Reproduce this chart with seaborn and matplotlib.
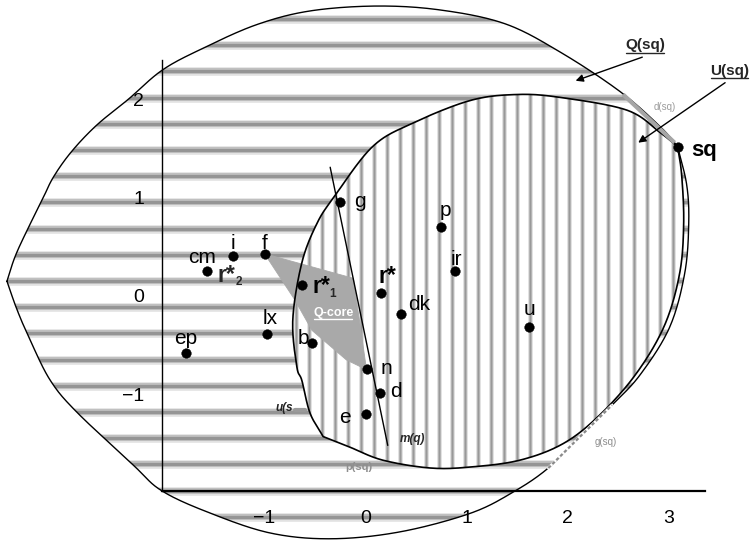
import numpy as np
import pandas as pd
import matplotlib
matplotlib.use("Agg")
import matplotlib.pyplot as plt
from matplotlib.patches import Polygon
from matplotlib.lines import Line2D
import seaborn as sns

# ---------------- data ----------------
# ideal points and the status quo
point_names = ["sq", "g", "p", "f", "i", "cm", "ir", "r1", "r", "dk",
               "u", "lx", "b", "ep", "n", "d", "e"]
point_x = [3.09, -0.25, 0.75, -1.00, -1.31, -1.57, 0.89, -0.63, 0.15, 0.35,
           1.62, -0.98, -0.53, -1.78, 0.01, 0.14, 0.00]
point_y = [1.52, 0.96, 0.70, 0.43, 0.41, 0.25, 0.25, 0.11, 0.03, -0.18,
           -0.32, -0.39, -0.48, -0.58, -0.74, -0.99, -1.20]

# boundary of Q(sq): starts at the left tip, runs over the top to sq and back along the bottom
q_x = [-3.55, -3.47, -3.35, -3.20, -3.09, -2.91, -2.66, -2.35, -2.01, -1.61,
       -1.08, -0.55, 0.11, 0.74, 1.38, 1.93, 2.52, 2.92, 3.09,
       3.18, 3.20, 3.16, 3.01, 2.72, 2.44, 2.12, 1.81, 1.47, 1.04,
       0.34, -0.34, -0.95, -1.56, -2.02, -2.30, -2.86, -3.12, -3.32, -3.45]
q_y = [0.15, 0.40, 0.67, 0.98, 1.21, 1.47, 1.74, 2.00, 2.30, 2.52,
       2.76, 2.90, 2.95, 2.91, 2.77, 2.48, 2.08, 1.72, 1.52,
       1.13, 0.74, 0.23, -0.32, -0.80, -1.11, -1.43, -1.75, -1.99, -2.21,
       -2.40, -2.47, -2.41, -2.20, -1.98, -1.72, -1.18, -0.86, -0.45, -0.14]
q_corners = [0, 18]

# boundary of U(sq): starts at sq, runs down the right side, bottom, left side and top
u_x = [3.09, 3.13, 3.15, 3.11, 2.96, 2.68, 2.32, 1.96, 1.53, 1.04, 0.64,
       0.17, -0.15, -0.42, -0.55, -0.63, -0.68, -0.72, -0.63, -0.48, -0.31,
       0.07, 0.47, 1.04, 1.50, 1.93, 2.59, 2.92]
u_y = [1.52, 1.23, 0.74, 0.23, -0.30, -0.79, -1.21, -1.50, -1.67, -1.74, -1.75,
       -1.67, -1.54, -1.43, -1.19, -0.86, -0.72, -0.24, 0.34, 0.74, 1.01,
       1.52, 1.76, 1.99, 2.05, 2.02, 1.89, 1.66]
u_corners = [0, 13]

# Q-core polygon
core_x = [-1.00, -0.12, 0.01, -0.19, -0.53, -0.70]
core_y = [0.43, 0.18, -0.75, -0.65, -0.35, -0.04]

# median line m(q)
m_x = [-0.35, 0.22]
m_y = [1.31, -1.52]

x_ticks = [-1, 0, 1, 2, 3]
y_ticks = [-1, 0, 1, 2]

# ---------------- helpers ----------------
def catmull_rom(xs, ys, n=24):
    pts = np.column_stack([xs, ys]).astype(float)
    ext = np.vstack([2 * pts[0] - pts[1], pts, 2 * pts[-1] - pts[-2]])
    t = np.linspace(0, 1, n, endpoint=False)[:, None]
    out = []
    for i in range(1, len(ext) - 2):
        p0, p1, p2, p3 = ext[i - 1], ext[i], ext[i + 1], ext[i + 2]
        out.append(0.5 * (2 * p1 + (-p0 + p2) * t
                          + (2 * p0 - 5 * p1 + 4 * p2 - p3) * t ** 2
                          + (-p0 + 3 * p1 - 3 * p2 + p3) * t ** 3))
    out.append(pts[-1:])
    return np.vstack(out)


def smooth_outline(xs, ys, corners):
    """Closed smooth outline that keeps sharp corners at the given indices."""
    xs = list(xs) + [xs[0]]
    ys = list(ys) + [ys[0]]
    cuts = list(corners) + [len(xs) - 1]
    pieces = []
    for a, b in zip(cuts[:-1], cuts[1:]):
        pieces.append(catmull_rom(xs[a:b + 1], ys[a:b + 1]))
    return np.vstack(pieces)


# ---------------- figure ----------------
sns.set_style("white")
plt.rcParams["font.family"] = ["Liberation Sans", "DejaVu Sans"]
plt.rcParams["axes.unicode_minus"] = True

W, H = 753, 542
fig = plt.figure(figsize=(W / 100, H / 100), dpi=100)
ax = fig.add_axes([162 / W, 1 - 491 / H, (705 - 162) / W, (491 - 60) / H])
ax.set_xlim(-2.015, 3.361)
ax.set_ylim(-1.984, 2.401)
ax.set_autoscale_on(False)

q_outline = smooth_outline(q_x, q_y, q_corners)
u_outline = smooth_outline(u_x, u_y, u_corners)

q_patch = Polygon(q_outline, closed=True, facecolor="white", edgecolor="none",
                  zorder=1, clip_on=False)
ax.add_patch(q_patch)

# horizontal shading of Q(sq)
band_y = 0.153 + 0.2665 * np.arange(-10, 12)
for lw, col in [(6.2, "#e2e2e2"), (4.2, "#bdbdbd"), (2.2, "#959595")]:
    lc = ax.hlines(band_y, -3.8, 4.0, colors=col, linewidth=lw, zorder=2)
    lc.set_clip_path(q_patch)
    lc.set_clip_box(None)

u_patch = Polygon(u_outline, closed=True, facecolor="white", edgecolor="none",
                  zorder=3, clip_on=False)
ax.add_patch(u_patch)

# vertical shading of U(sq)
stripe_x = 1.76 + 0.1287 * np.arange(-22, 13)
for lw, col in [(3.4, "#dedede"), (1.9, "#b2b2b2"), (0.9, "#999999")]:
    lc = ax.vlines(stripe_x, -2.6, 3.1, colors=col, linewidth=lw, zorder=4)
    lc.set_clip_path(u_patch)
    lc.set_clip_box(None)

# Q-core
ax.add_patch(Polygon(np.column_stack([core_x, core_y]), closed=True,
                     facecolor="#a9a9a9", edgecolor="#a9a9a9", lw=0.6,
                     zorder=5, clip_on=False))

# outlines
ax.plot(q_outline[:, 0], q_outline[:, 1], color="black", lw=1.0, zorder=6,
        clip_on=False)
ax.plot(u_outline[:, 0], u_outline[:, 1], color="black", lw=1.2, zorder=6,
        clip_on=False)
ax.plot(m_x, m_y, color="black", lw=1.0, zorder=6, clip_on=False)

# faint boundary pieces d(sq) and g(sq)
ax.plot([2.55, 3.06], [2.05, 1.56], color="#a6a6a6", lw=3.0, zorder=6.5,
        clip_on=False, solid_capstyle="butt")
ax.plot([1.81, 2.44], [-1.75, -1.11], color="white", lw=2.0, zorder=6.5,
        clip_on=False)
ax.plot([1.81, 2.44], [-1.75, -1.11], color="#8a8a8a", lw=1.6, zorder=6.6,
        clip_on=False, dashes=(1.5, 1.0))

# points
pts = pd.DataFrame({"name": point_names, "x": point_x, "y": point_y})
sns.scatterplot(data=pts, x="x", y="y", color="black", s=48, edgecolor="black",
                linewidth=0.3, ax=ax, zorder=8, clip_on=False, legend=False)

labels = {"sq": "sq", "g": "g", "p": "p", "f": "f", "i": "i", "cm": "cm",
          "ir": "ir", "r1": "r*", "r": "r*", "dk": "dk", "u": "u", "lx": "lx",
          "b": "b", "ep": "ep", "n": "n", "d": "d", "e": "e"}
# (dx, dy) in points and alignment for every label
label_pos = {"sq": (10.1, -6.5, "left"), "g": (10.1, -3.8, "left"),
             "p": (3.1, 8.4, "center"), "f": (0, 3.6, "center"),
             "i": (-0.4, 5.0, "center"), "cm": (-3.7, 5.8, "center"),
             "ir": (0.7, 4.8, "center"), "r1": (7.6, -5.6, "left"),
             "r": (5.0, 7.2, "center"), "dk": (5.3, 2.9, "left"),
             "u": (0.2, 9.1, "center"), "lx": (2.9, 7.4, "center"),
             "b": (-6.0, -0.9, "center"), "ep": (0, 6.5, "center"),
             "n": (9.9, -3.6, "left"), "d": (7.2, -2.4, "left"),
             "e": (-15.1, -6.3, "center")}
bold = {"sq": 16, "r1": 16.5, "r": 16.5}

for name, x, y in zip(point_names, point_x, point_y):
    dx, dy, ha = label_pos[name]
    ax.annotate(labels[name], (x, y), xytext=(dx, dy), textcoords="offset points",
                ha=ha, va="baseline", fontsize=bold.get(name, 15),
                fontweight="bold" if name in bold else "normal",
                color="black", zorder=9, annotation_clip=False)

# r*2 sits on the cm point, subscripts for r*1 and r*2
cm_i = point_names.index("cm")
r1_i = point_names.index("r1")
ax.annotate("r*", (point_x[cm_i], point_y[cm_i]), xytext=(7.4, -7.7),
            textcoords="offset points", ha="left", va="baseline", fontsize=16.5,
            fontweight="bold", zorder=9, annotation_clip=False)
ax.annotate("2", (point_x[cm_i], point_y[cm_i]), xytext=(20.4, -10.1),
            textcoords="offset points", ha="left", va="baseline", fontsize=8.5,
            fontweight="bold", zorder=9, annotation_clip=False)
ax.annotate("1", (point_x[r1_i], point_y[r1_i]), xytext=(20.0, -8.6),
            textcoords="offset points", ha="left", va="baseline", fontsize=8.5,
            fontweight="bold", zorder=9, annotation_clip=False)

# region labels with arrows
arrow = dict(arrowstyle="-|>", color="black", lw=1.0, mutation_scale=11,
             shrinkA=0, shrinkB=0)
ax.annotate("", xy=(2.08, 2.19), xytext=(2.74, 2.43), arrowprops=arrow,
            annotation_clip=False, zorder=9)
ax.annotate("", xy=(2.70, 1.56), xytext=(3.56, 2.17), arrowprops=arrow,
            annotation_clip=False, zorder=9)
t_q = ax.text(2.77, 2.55, "Q(sq)", ha="center", va="center", fontsize=11,
              fontweight="bold", clip_on=False, zorder=9)
t_u = ax.text(3.60, 2.29, "U(sq)", ha="center", va="center", fontsize=11,
              fontweight="bold", clip_on=False, zorder=9)
t_core = ax.text(-0.32, -0.17, "Q-core", ha="center", va="center", fontsize=9,
                 fontweight="bold", color="white", clip_on=False, zorder=9)

# small boundary annotations
ax.text(0.46, -1.455, "m(q)", ha="center", va="center", fontsize=8.5,
        fontweight="bold", style="italic", zorder=9, clip_on=False)
ax.text(-0.80, -1.14, "u(s", ha="center", va="center", fontsize=8.5,
        fontweight="bold", style="italic", color="#222222", zorder=9,
        clip_on=False)
ax.plot([-0.70, -0.60], [-1.16, -1.16], color="#9a9a9a", lw=3.0, zorder=9,
        clip_on=False)
ax.text(2.965, 1.925, "d(sq)", ha="center", va="center", fontsize=7,
        color="#9c9c9c", zorder=9, clip_on=False)
ax.text(2.38, -1.485, "g(sq)", ha="center", va="center", fontsize=7,
        color="#8c8c8c", zorder=9, clip_on=False)
ax.text(-0.07, -1.74, "p(sq)", ha="center", va="center", fontsize=8,
        fontweight="bold", color="#8e8e8e", zorder=9, clip_on=False)

# axes frame
ax.set_xlabel("")
ax.set_ylabel("")
ax.set_xticks(x_ticks)
ax.set_yticks(y_ticks)
ax.tick_params(axis="both", length=0, labelsize=14, colors="black")
ax.tick_params(axis="x", pad=14)
ax.tick_params(axis="y", pad=13)
sns.despine(ax=ax)
ax.spines["left"].set_linewidth(1.0)
ax.spines["bottom"].set_linewidth(1.6)
for sp in ("left", "bottom"):
    ax.spines[sp].set_color("black")
    ax.spines[sp].set_zorder(7)
ax.xaxis.set_zorder(9.5)
ax.yaxis.set_zorder(9.5)
ax.patch.set_alpha(0)


def underline(txt, gap=0.5, lw=1.0):
    bb = txt.get_window_extent()
    inv = fig.transFigure.inverted()
    (x0, y0), (x1, _) = inv.transform([(bb.x0 + 1, bb.y0 - gap),
                                       (bb.x1 - 1, bb.y0 - gap)])
    fig.add_artist(Line2D([x0, x1], [y0, y0], color=txt.get_color(), lw=lw,
                          zorder=10))


fig.canvas.draw()
for t in (t_q, t_u, t_core):
    underline(t)

fig.savefig("out.png", dpi=100)
